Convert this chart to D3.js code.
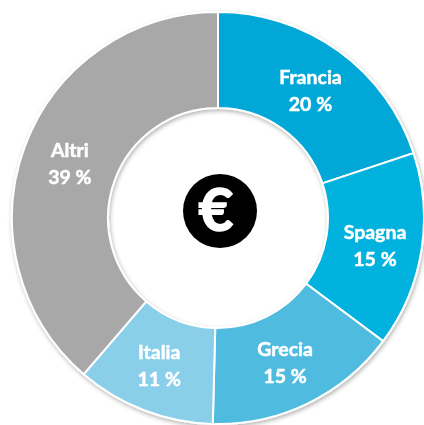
<!DOCTYPE html>
<html>
<head>
<meta charset="utf-8">
<script src="https://cdnjs.cloudflare.com/ajax/libs/d3/7.8.5/d3.min.js"></script>
<style>
  html, body { margin: 0; padding: 0; background: #fff; }
  svg { display: block; }
  text { font-family: Lato, "Open Sans", sans-serif; font-weight: 700; fill: #fff; stroke: #fff; text-anchor: middle; }
</style>
</head>
<body>
<div id="chart"></div>
<script>
// chart values (labels round them)
const countries = ["Francia", "Spagna", "Grecia", "Italia", "Altri"]
const shares = [19.9, 15.3, 15.2, 10.9, 38.7]
const colors = ["#00a7d7", "#00b2dd", "#4fbcdf", "#89cfe9", "#a8a8a8"]

const width = 424, height = 425
const cx = 218, cy = 218
const outerR = 206, innerR = 110, labelR = 158

// small hand nudges for labels that don't sit on the slice centroid
const labelNudge = [[0, 1], [1, 3], [-2, 3], [-2, 1], [0, 1]]

const svg = d3.select("#chart").append("svg")
    .attr("width", width)
    .attr("height", height)

// soft shadow under the ring, blur takes the edge off like the original
const defs = svg.append("defs")
const shadow = defs.append("filter").attr("id", "shadow")
    .attr("x", "-10%").attr("y", "-10%").attr("width", "120%").attr("height", "120%")
shadow.append("feDropShadow")
    .attr("dx", 1).attr("dy", 2).attr("stdDeviation", 2)
    .attr("flood-color", "#000").attr("flood-opacity", 0.3)
const soft = defs.append("filter").attr("id", "soft")
soft.append("feGaussianBlur").attr("stdDeviation", 0.6)

const g = svg.append("g").attr("transform", "translate(" + cx + "," + cy + ")")

const pie = d3.pie().sort(null)(shares)
const arc = d3.arc().innerRadius(innerR).outerRadius(outerR)
const labelArc = d3.arc().innerRadius(labelR).outerRadius(labelR)

g.append("g")
    .attr("filter", "url(#shadow)")
    .selectAll("path")
    .data(pie)
    .enter()
    .append("path")
    .attr("d", arc)
    .attr("fill", (d, i) => colors[i])
    .attr("stroke", "#fff")
    .attr("stroke-width", 2)

// labels, name over value
const labels = g.selectAll(".label")
    .data(pie)
    .enter()
    .append("text")
    .attr("class", "label")
    .attr("transform", (d, i) => {
        let c = labelArc.centroid(d)
        return "translate(" + (c[0] + labelNudge[i][0]) + "," + (c[1] + labelNudge[i][1]) + ")"
    })
    .attr("font-size", 19.5)
    .attr("stroke-width", 0.5)
    .attr("filter", "url(#soft)")

labels.append("tspan").attr("x", 0).attr("y", -7)
    .text((d, i) => countries[i])
labels.append("tspan").attr("x", 0).attr("y", 20)
    .text(d => d3.format(".0f")(d.value) + " %")

// euro badge in the hole
const badge = g.append("g").attr("transform", "translate(2,-7)")
badge.append("circle").attr("r", 37).attr("fill", "#000")
badge.append("text")
    .attr("x", -4)
    .attr("y", 20)
    .attr("font-size", 60)
    .attr("stroke-width", 1.6)
    .text("€")
</script>
</body>
</html>
